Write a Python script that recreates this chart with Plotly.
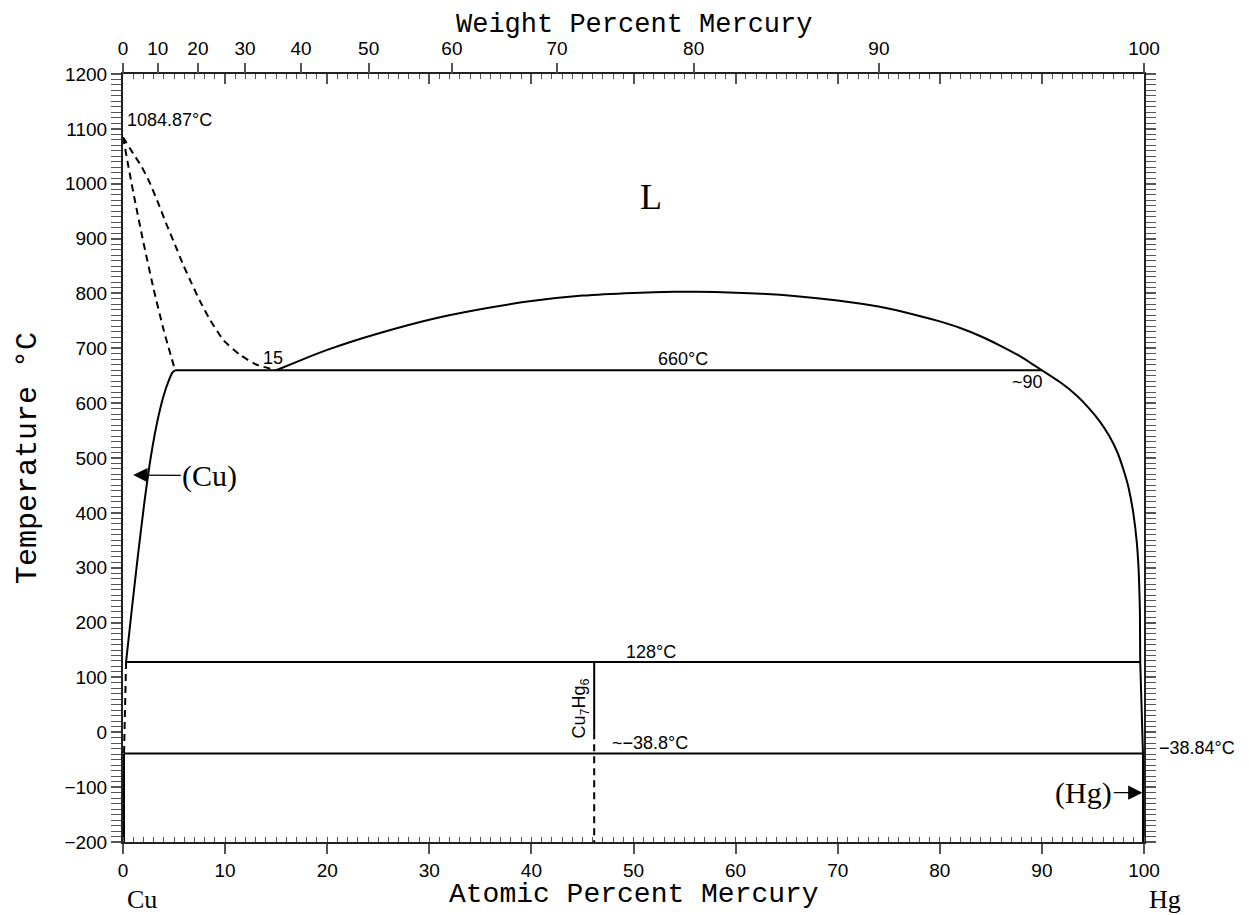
import plotly.graph_objects as go

# ---------------- data ----------------
# Cu-side liquidus (dashed)
liq_cu_x = [0.0, 1.0, 1.83, 2.64, 3.46, 4.28, 5.09, 5.9, 6.73, 7.54, 8.52, 9.83, 11.46, 13.1, 15.0]
liq_cu_T = [1084.87, 1055, 1031, 1001, 964, 925, 889, 852, 818, 786, 752, 715, 688, 670, 660]
# Cu-side solidus (dashed)
sol_cu_x = [0.0, 1.0, 2.0, 3.0, 4.0, 5.1]
sol_cu_T = [1084.87, 985, 893, 808, 732, 660]
# (Cu) solvus (solid)
solv_cu_x = [5.1, 4.85, 4.5, 4.0, 3.4, 2.75, 2.1, 1.45, 0.85, 0.3]
solv_cu_T = [660, 656, 642, 615, 570, 505, 420, 320, 222, 128]
# (Cu) solvus below 128 C (dashed) and low-T boundary
solv_cu_low_x = [0.3, 0.1]
solv_cu_low_T = [128, -38.8]
cu_vert_x = [0.1, 0.1]
cu_vert_T = [-38.8, -200]
# liquid miscibility gap + Hg-side liquidus
gap_x = [15.0, 17.5, 20.0, 22.2, 25.0, 30.0, 35.0, 40.0, 45.0, 50.0, 54.0, 58.0, 62.0,
         66.0, 70.0, 74.0, 78.0, 80.0, 82.0, 84.0, 86.0, 88.0, 90.0, 91.8, 93.4, 94.6,
         95.7, 96.6, 97.4, 98.0, 98.5, 98.95, 99.3, 99.5, 99.6, 99.63]
gap_T = [660, 679, 697, 711, 727, 752, 771, 786, 796, 801, 803, 802.5, 800,
         795, 787, 776, 759, 749, 737, 722, 704, 684, 660, 638, 614, 591,
         566, 540, 510, 478, 445, 400, 345, 285, 220, 128]
# Hg-side below 128 C
hg_low_x = [99.63, 99.9, 99.9]
hg_low_T = [128, -38.84, -200]
# invariant lines
inv_660_x = [5.1, 90.0]
inv_660_T = [660, 660]
inv_128_x = [0.3, 99.63]
inv_128_T = [128, 128]
inv_m38_x = [0.1, 99.9]
inv_m38_T = [-38.8, -38.8]
# Cu7Hg6 compound line
cmp_x = 46.15
cmp_solid_T = [128, 0]
cmp_dash_T = [0, -200]

# weight-percent tick labels for top axis
wt_labels = [0, 10, 20, 30, 40, 50, 60, 70, 80, 90, 100]
M_CU, M_HG = 63.546, 200.59


def wt_to_at(w):
    if w >= 100:
        return 100.0
    a = w / M_HG
    b = (100 - w) / M_CU
    return 100.0 * a / (a + b)


wt_pos = [wt_to_at(w) for w in wt_labels]

# ---------------- figure ----------------
fig = go.Figure()
LW = 2
BLK = "black"


def add_line(x, y, dash="solid", width=LW, shape="linear"):
    fig.add_trace(go.Scatter(x=x, y=y, mode="lines",
                             line=dict(color=BLK, width=width, dash=dash, shape=shape,
                                       smoothing=0.5),
                             hoverinfo="skip", showlegend=False))


DASH = "7px,5px"
add_line(liq_cu_x, liq_cu_T, dash=DASH, shape="spline")
add_line(sol_cu_x, sol_cu_T, dash=DASH, shape="spline")
add_line(solv_cu_x, solv_cu_T, shape="spline")
add_line(solv_cu_low_x, solv_cu_low_T, dash=DASH)
add_line(cu_vert_x, cu_vert_T)
add_line(gap_x, gap_T, shape="spline")
add_line(hg_low_x, hg_low_T)
add_line(inv_660_x, inv_660_T)
add_line(inv_128_x, inv_128_T)
add_line(inv_m38_x, inv_m38_T)
add_line([cmp_x, cmp_x], cmp_solid_T)
add_line([cmp_x, cmp_x], cmp_dash_T, dash=DASH)

# dummy traces to activate the top axes
fig.add_trace(go.Scatter(x=[0, 100], y=[None, None], xaxis="x2", yaxis="y",
                         mode="lines", showlegend=False, hoverinfo="skip"))
fig.add_trace(go.Scatter(x=[0, 100], y=[None, None], xaxis="x3", yaxis="y",
                         mode="lines", showlegend=False, hoverinfo="skip"))

TICKFONT = dict(family="Liberation Sans", size=19, color="black")
TICKCOL = "#555555"

fig.update_layout(
    width=1241, height=907,
    margin=dict(l=115, r=105, t=66, b=73),
    paper_bgcolor="white", plot_bgcolor="white",
    xaxis=dict(range=[0, 100], showgrid=False, zeroline=False,
               showline=True, linecolor="#222222", linewidth=2, mirror=True,
               ticks="outside", ticklen=10, tickwidth=1.5, tickcolor=TICKCOL,
               tickmode="linear", tick0=0, dtick=10,
               minor=dict(ticks="inside", ticklen=5, tickwidth=1.2, tickcolor=TICKCOL,
                          tickmode="linear", tick0=0, dtick=1, showgrid=False),
               tickfont=TICKFONT),
    xaxis2=dict(range=[0, 100], overlaying="x", side="top", anchor="y",
                showgrid=False, zeroline=False, showline=False,
                tickmode="array", tickvals=wt_pos, ticktext=[str(w) for w in wt_labels],
                ticks="outside", ticklen=10, tickwidth=1.5, tickcolor=TICKCOL,
                tickfont=TICKFONT),
    xaxis3=dict(range=[0, 100], overlaying="x", side="top", anchor="y",
                showgrid=False, zeroline=False, showline=False, showticklabels=False,
                ticks="inside", ticklen=10, tickwidth=1.5, tickcolor=TICKCOL,
                tickmode="linear", tick0=0, dtick=10,
                minor=dict(ticks="inside", ticklen=5, tickwidth=1.2, tickcolor=TICKCOL,
                           tickmode="linear", tick0=0, dtick=1, showgrid=False)),
    yaxis=dict(range=[-200, 1200], showgrid=False, zeroline=False,
               showline=True, linecolor="#222222", linewidth=2, mirror="allticks",
               ticks="outside", ticklen=10, tickwidth=1.5, tickcolor=TICKCOL,
               tickmode="linear", tick0=0, dtick=100,
               minor=dict(ticks="outside", ticklen=5, tickwidth=1.2, tickcolor=TICKCOL,
                          tickmode="linear", tick0=0, dtick=10, showgrid=False),
               tickfont=TICKFONT),
)

SANS = "Liberation Sans"
SERIF = "Liberation Serif"
MONO = "Liberation Mono"

ann = []


def txt(x, y, s, size=18, family=SANS, xanchor="center", yanchor="middle",
        xref="x", yref="y", angle=0):
    ann.append(dict(x=x, y=y, text=s, xref=xref, yref=yref, showarrow=False,
                    xanchor=xanchor, yanchor=yanchor, textangle=angle,
                    font=dict(family=family, size=size, color="black")))


txt(0.2, 1116, "1084.87°C", xanchor="left")
txt(51.7, 976, "L", size=36, family=SERIF)
txt(14.7, 682, "15")
txt(54.8, 680, "660°C")
txt(88.6, 638, "~90")
txt(51.7, 147, "128°C")
txt(44.8, 44, "Cu<sub>7</sub>Hg<sub>6</sub>", angle=-90)
txt(47.7, -19, "~−38.8°C", xanchor="left")
# outside the plot area: use paper x (plot domain 0..1 == 0..100 at.%)
txt(1.013, -28, "−38.84°C", xanchor="left", xref="paper")
txt(0.019, -0.075, "Cu", size=26, family=SERIF, xref="paper", yref="paper")
txt(1.021, -0.075, "Hg", size=26, family=SERIF, xref="paper", yref="paper")
txt(0.5, -0.068, "Atomic Percent Mercury", size=28, family=MONO, xref="paper", yref="paper")
txt(0.5, 1.0635, "Weight Percent Mercury", size=27, family=MONO, xref="paper", yref="paper")
txt(-0.093, 0.5, "Temperature °C", size=30, family=MONO, xref="paper", yref="paper", angle=-90)

# phase labels with arrows (text at the tail, arrow tip on the boundary)
ann.append(dict(x=1.0, y=469, ax=8.5, ay=468, xref="x", yref="y", axref="x", ayref="y",
                text="(Cu)", font=dict(family=SERIF, size=30, color="black"),
                showarrow=True, arrowhead=2, arrowsize=2.2, arrowwidth=1.3,
                arrowcolor="black"))
ann.append(dict(x=99.85, y=-110, ax=94.1, ay=-110, xref="x", yref="y", axref="x", ayref="y",
                text="(Hg)", font=dict(family=SERIF, size=30, color="black"),
                showarrow=True, arrowhead=2, arrowsize=2.2, arrowwidth=1.3,
                arrowcolor="black"))

fig.update_layout(annotations=ann)
fig.write_html("out.html")
